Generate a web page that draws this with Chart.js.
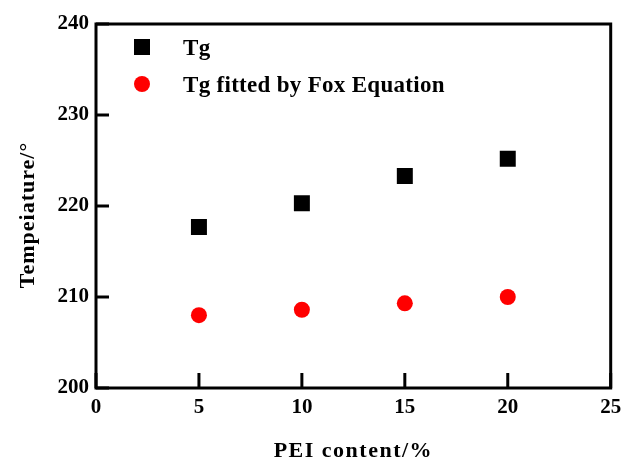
<!DOCTYPE html>
<html>
<head>
<meta charset="utf-8">
<script src="https://cdn.jsdelivr.net/npm/chart.js@4"></script>
<style>
  body { margin: 0; background: #fff; }
  #wrap { width: 622px; height: 461px; }
</style>
</head>
<body>
<div id="wrap"><canvas id="myChart"></canvas></div>
<script>
  // data

  var peiContent = [5, 10, 15, 20];
  var tgMeasured = [217.7, 220.3, 223.3, 225.2];
  var tgFox = [208.0, 208.6, 209.3, 210.0];

  var xTicks = [0, 5, 10, 15, 20, 25];
  var yTicks = [200, 210, 220, 230, 240];

  var xTitle = 'PEI content/%';
  var yTitle = 'Tempeiature/\u00b0';

  var serif = "'Liberation Serif', 'Times New Roman', serif";

  function toPoints(xs, ys) {
    return xs.map(function(x, i){ return {x: x, y: ys[i]}; });
  }

  var datasets = [{
      label: 'Tg',
      data: toPoints(peiContent, tgMeasured),
      pointStyle: 'rect',
      pointRadius: 11.3,
      backgroundColor: '#000000',
      borderColor: '#000000',
      borderWidth: 0,
      showLine: false
    }, {
      label: 'Tg fitted by Fox Equation',
      data: toPoints(peiContent, tgFox),
      pointStyle: 'circle',
      pointRadius: 8,
      backgroundColor: '#ff0000',
      borderColor: '#ff0000',
      borderWidth: 0,
      showLine: false
  }];

  // frame, inward ticks, axis titles and the legend inside the plot box
  var framePlugin = {
    id: 'frame',
    afterDraw: function(chart) {
      var ctx = chart.ctx;
      var a = chart.chartArea;
      var xs = chart.scales.x;
      var ys = chart.scales.y;
      ctx.save();
      ctx.strokeStyle = '#000';
      ctx.lineWidth = 3;
      ctx.strokeRect(a.left, a.top, a.right - a.left, a.bottom - a.top);

      // x ticks point up, y ticks point right
      xTicks.forEach(function(v){
        var px = xs.getPixelForValue(v);
        ctx.beginPath();
        ctx.moveTo(px, a.bottom);
        ctx.lineTo(px, a.bottom - 15);
        ctx.stroke();
      });
      yTicks.forEach(function(v){
        var py = ys.getPixelForValue(v);
        ctx.beginPath();
        ctx.moveTo(a.left, py);
        ctx.lineTo(a.left + 13, py);
        ctx.stroke();
      });

      // legend
      ctx.fillStyle = '#000';
      ctx.textAlign = 'left';
      ctx.textBaseline = 'alphabetic';
      ctx.font = 'bold 23px ' + serif;
      ctx.letterSpacing = '0.3px';
      chart.data.datasets.forEach(function(ds, i){
        var cx = a.left + 46;
        var cy = a.top + 23 + i * 37;
        ctx.fillStyle = ds.backgroundColor;
        if (ds.pointStyle === 'rect') {
          ctx.fillRect(cx - 8, cy - 8, 16, 16);
        } else {
          ctx.beginPath();
          ctx.arc(cx, cy, 8, 0, Math.PI * 2);
          ctx.fill();
        }
        ctx.fillStyle = '#000';
        ctx.fillText(ds.label, a.left + 87, cy + 8);
      });

      // axis titles
      ctx.font = 'bold 22px ' + serif;
      ctx.letterSpacing = '1.5px';
      ctx.textAlign = 'center';
      ctx.fillText(xTitle, (a.left + a.right) / 2, 457);

      ctx.letterSpacing = '1px';
      ctx.translate(34, (a.top + a.bottom) / 2 + 9);
      ctx.rotate(-Math.PI / 2);
      ctx.fillText(yTitle, 0, 0);
      ctx.restore();
    }
  };

  var config = {
    type: 'scatter',
    data: { datasets: datasets },
    options: {
      responsive: true,
      maintainAspectRatio: false,
      animation: false,
      layout: { padding: { top: 24, right: 10, left: 0, bottom: 0 } },
      plugins: {
        legend: { display: false },
        tooltip: { enabled: false }
      },
      scales: {
        x: {
          type: 'linear',
          min: 0,
          max: 25,
          afterBuildTicks: function(axis){
            axis.ticks = xTicks.map(function(v){ return {value: v}; });
          },
          afterFit: function(axis){
            axis.height = 73;
            axis.paddingLeft = 0;
            axis.paddingRight = 0;
          },
          grid: { display: false, drawTicks: false },
          border: { display: false },
          ticks: {
            padding: 7,
            color: '#000',
            font: { family: serif, size: 21, weight: 'bold' }
          }
        },
        y: {
          min: 200,
          max: 240,
          afterBuildTicks: function(axis){
            axis.ticks = yTicks.map(function(v){ return {value: v}; });
          },
          afterFit: function(axis){
            axis.width = 96;
            axis.paddingTop = 0;
            axis.paddingBottom = 0;
          },
          grid: { display: false, drawTicks: false },
          border: { display: false },
          ticks: {
            padding: 7,
            color: '#000',
            font: { family: serif, size: 21, weight: 'bold' }
          }
        }
      }
    },
    plugins: [framePlugin]
  };

  // render chart
  var myChart = new Chart(document.getElementById('myChart'), config);
</script>
</body>
</html>
